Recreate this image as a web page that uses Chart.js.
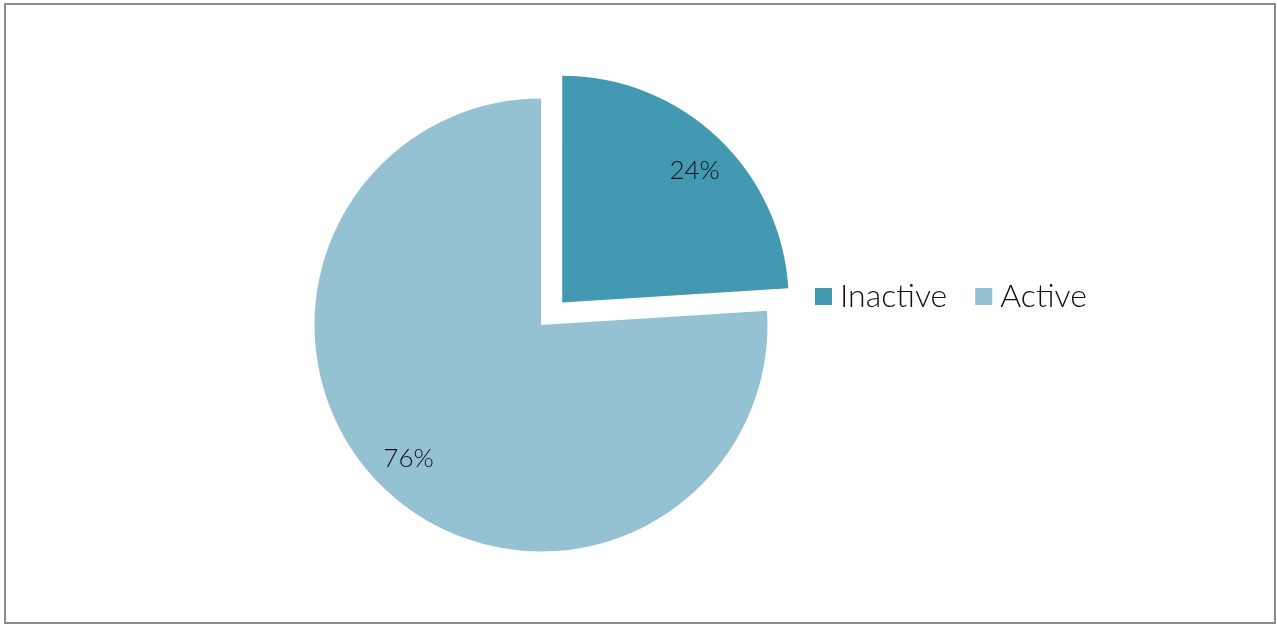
<!DOCTYPE html>
<html><head><meta charset="utf-8">
<script src="https://cdn.jsdelivr.net/npm/chart.js@4"></script>
<style>html,body{margin:0;padding:0;background:#fff;}#wrap{position:relative;width:1277px;height:625px;}canvas{display:block;}</style>
</head><body><div id="wrap"><canvas id="c" width="1277" height="625"></canvas></div>
<script>
const categories = ['Inactive', 'Active'];
const values = [24, 76];
const valueLabels = ['24%', '76%'];
const colors = ['#4399B1', '#94C2D3'];
const explode = [124, 0];

const framePlugin = {
  id: 'frame',
  beforeDraw(chart) {
    const ctx = chart.ctx;
    ctx.save();
    ctx.strokeStyle = '#8c8c8c';
    ctx.lineWidth = 2;
    ctx.strokeRect(5, 4, 1270, 619);
    ctx.restore();
  }
};

const labelPlugin = {
  id: 'sliceLabels',
  afterDatasetsDraw(chart) {
    const ctx = chart.ctx;
    const meta = chart.getDatasetMeta(0);
    ctx.save();
    ctx.fillStyle = '#111';
    ctx.font = '300 26px Lato';
    ctx.textAlign = 'center';
    ctx.textBaseline = 'alphabetic';
    meta.data.forEach((arc, i) => {
      const p = arc.getProps(['x', 'y', 'startAngle', 'endAngle', 'outerRadius'], true);
      const mid = (p.startAngle + p.endAngle) / 2;
      const off = (arc.options.offset || 0) / 4;
      const cx = p.x + Math.cos(mid) * off;
      const cy = p.y + Math.sin(mid) * off;
      const a = mid + 0.03;
      const r = p.outerRadius * 0.828;
      const x = cx + Math.cos(a) * r;
      const y = cy + Math.sin(a) * r;
      ctx.fillText(valueLabels[i], x, y + 9);
    });
    ctx.restore();
  }
};

const legendPlugin = {
  id: 'rowLegend',
  afterDraw(chart) {
    const ctx = chart.ctx;
    ctx.save();
    ctx.font = '300 32px Lato';
    ctx.textBaseline = 'alphabetic';
    ctx.textAlign = 'left';
    let x = 815;
    categories.forEach((c, i) => {
      ctx.fillStyle = colors[i];
      ctx.fillRect(x, 288, 17, 17);
      ctx.fillStyle = '#111';
      ctx.fillText(c, x + 25, 307);
      x += 25 + ctx.measureText(c).width + 28;
    });
    ctx.restore();
  }
};

new Chart(document.getElementById('c'), {
  type: 'pie',
  data: {
    labels: categories,
    datasets: [{
      data: values,
      backgroundColor: colors,
      borderWidth: 0,
      offset: explode,
      radius: 226.5
    }]
  },
  options: {
    responsive: false,
    animation: false,
    devicePixelRatio: 1,
    layout: { padding: { left: 0, right: 195, top: 25, bottom: 0 } },
    plugins: { legend: { display: false }, tooltip: { enabled: false } }
  },
  plugins: [framePlugin, labelPlugin, legendPlugin]
});
</script>
</body></html>
